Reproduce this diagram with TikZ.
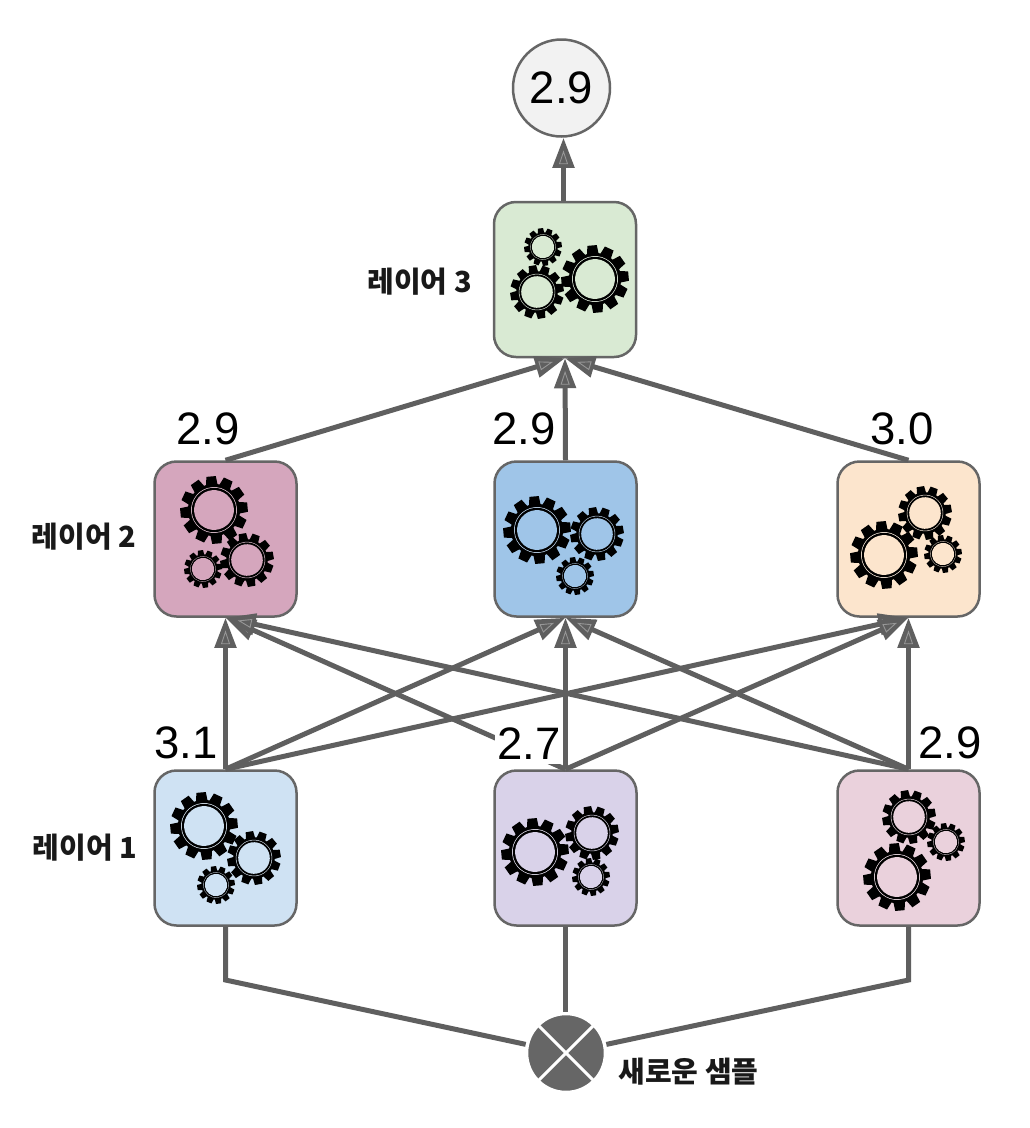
\documentclass[tikz,border=0pt]{standalone}
\usepackage{fontspec}
\setmainfont{Liberation Sans}
\newfontfamily\kr{Noto Sans CJK KR}
\usetikzlibrary{arrows.meta,decorations.markings,calc}
\definecolor{ln}{HTML}{5F5F5F}
\definecolor{bd}{HTML}{666666}
\definecolor{cg}{HTML}{D9EAD3}
\definecolor{cp}{HTML}{D5A6BD}
\definecolor{cb}{HTML}{9FC5E8}
\definecolor{co}{HTML}{FCE5CD}
\definecolor{cl}{HTML}{CFE2F3}
\definecolor{cv}{HTML}{D9D2E9}
\definecolor{cr}{HTML}{EAD1DC}
\tikzset{
  box/.style={draw=bd,line width=2.5pt,rounded corners=22pt,minimum width=142pt,minimum height=155pt,inner sep=0pt},
  wire/.style={draw=ln,line width=5pt,line join=miter},
  conn/.style={wire,-{Triangle[length=30pt,width=21pt,color=ln]},
    postaction={decorate,decoration={markings,mark=at position 1 with {
      \draw[draw=white!35!ln,line width=.9pt,line join=miter] (-26,-4) -- (-26,4) -- (-14,0) -- cycle;}}}},
  val/.style={font=\fontsize{45.5pt}{46pt}\selectfont,inner sep=0pt,text=black},
  lab/.style={font=\kr\bfseries\fontsize{29pt}{30pt}\selectfont,inner sep=0pt,text=black!90},
}
% x y radius background rotation
\newcommand{\gear}[5]{%
  \begin{scope}[shift={(#1,#2)},rotate=#5]
    \fill[black] (0,0) circle[radius=.77*#3];
    \foreach \a in {0,30,...,330}{
      \fill[black] ({\a-14}:{.72*#3}) -- ({\a-8}:{#3}) -- ({\a+8}:{#3}) -- ({\a+14}:{.72*#3}) -- cycle;}
    \fill[#4!65!white] (0,0) circle[radius=.675*#3];
    \fill[black] (0,0) circle[radius=.655*#3];
    \fill[#4] (0,0) circle[radius=.585*#3];
  \end{scope}}
\begin{document}
\begin{tikzpicture}[x=1pt,y=-1pt]
\useasboundingbox (0,0) rectangle (1030,1128);
% boxes
\node[box,fill=cg] (top) at (565,279.5) {};
\node[box,fill=cp] (b1) at (225.5,539) {};
\node[box,fill=cb] (b2) at (565.5,539) {};
\node[box,fill=co] (b3) at (908.5,539) {};
\node[box,fill=cl] (a1) at (225.5,848) {};
\node[box,fill=cv] (a2) at (565.5,848) {};
\node[box,fill=cr] (a3) at (908.5,848) {};
\node[circle,draw=bd,fill=black!5,line width=2.5pt,minimum size=97pt,inner sep=0pt,font=\fontsize{45.5pt}{46pt}\selectfont,text=black] (out) at (561.5,88) {2.9};
\node[circle,fill=bd,draw=white,line width=3.5pt,minimum size=79pt,inner sep=0pt] (x) at (566,1053) {};
\draw[white,line width=3pt] (x.45) -- (x.225) (x.135) -- (x.315);
\coordinate (kl) at (a1.south |- 0,980);
\coordinate (kr) at (a3.south |- 0,980);
% connectors
\draw[wire] (a1.south) -- (kl) -- (x);
\draw[wire] (a2.south) -- (a2.south |- x.north);
\draw[wire] (a3.south) -- (kr) -- (x);
\foreach \s in {a1,a2,a3}{
  \foreach \t in {b1,b2,b3}{
    \path[conn] (\s.north) -- (\t.south);}}
\foreach \s in {b1,b2,b3}{
  \path[conn] (\s.north) -- (top.south);}
\path[conn] ($(top.north)+(-1.5,0)$) -- ($(top.north |- out.south)+(-1.5,0)$);
% gears
\gear{543}{247}{19}{cg}{8}
\gear{537}{292}{27}{cg}{10}
\gear{595}{279}{34}{cg}{5}
\gear{214}{510}{34}{cp}{5}
\gear{247}{560}{27}{cp}{10}
\gear{203}{569}{19}{cp}{8}
\gear{537}{530}{34}{cb}{5}
\gear{597}{534}{27}{cb}{10}
\gear{575}{576}{19}{cb}{8}
\gear{884}{555}{34}{co}{5}
\gear{925}{513}{27}{co}{10}
\gear{943}{554}{19}{co}{8}
\gear{204}{826}{34}{cl}{5}
\gear{254}{858}{27}{cl}{10}
\gear{216}{885}{19}{cl}{8}
\gear{535}{852}{34}{cv}{5}
\gear{592}{833}{27}{cv}{10}
\gear{591}{877}{19}{cv}{8}
\gear{897}{877}{34}{cr}{5}
\gear{909}{817}{27}{cr}{10}
\gear{946}{842}{19}{cr}{8}
% value labels
\node[val] (v1) at (208,429) {2.9};
\node[val] (v2) at (524,429) {2.9};
\node[val] (v3) at (902,429) {3.0};
\node[val] (u1) at (186,743) {3.1};
\node[val,fill=white,inner xsep=2pt,inner ysep=4pt] (u2) at (529,744) {2.7};
\node[val] (u3) at (950,743) {2.9};
% layer labels
\node[lab] (l3) at (419.5,282) {레이어 3};
\node[lab] (l2) at (84,537) {레이어 2};
\node[lab] (l1) at (85,848) {레이어 1};
\node[lab] (ns) at (688.5,1072) {새로운 샘플};
\end{tikzpicture}
\end{document}
